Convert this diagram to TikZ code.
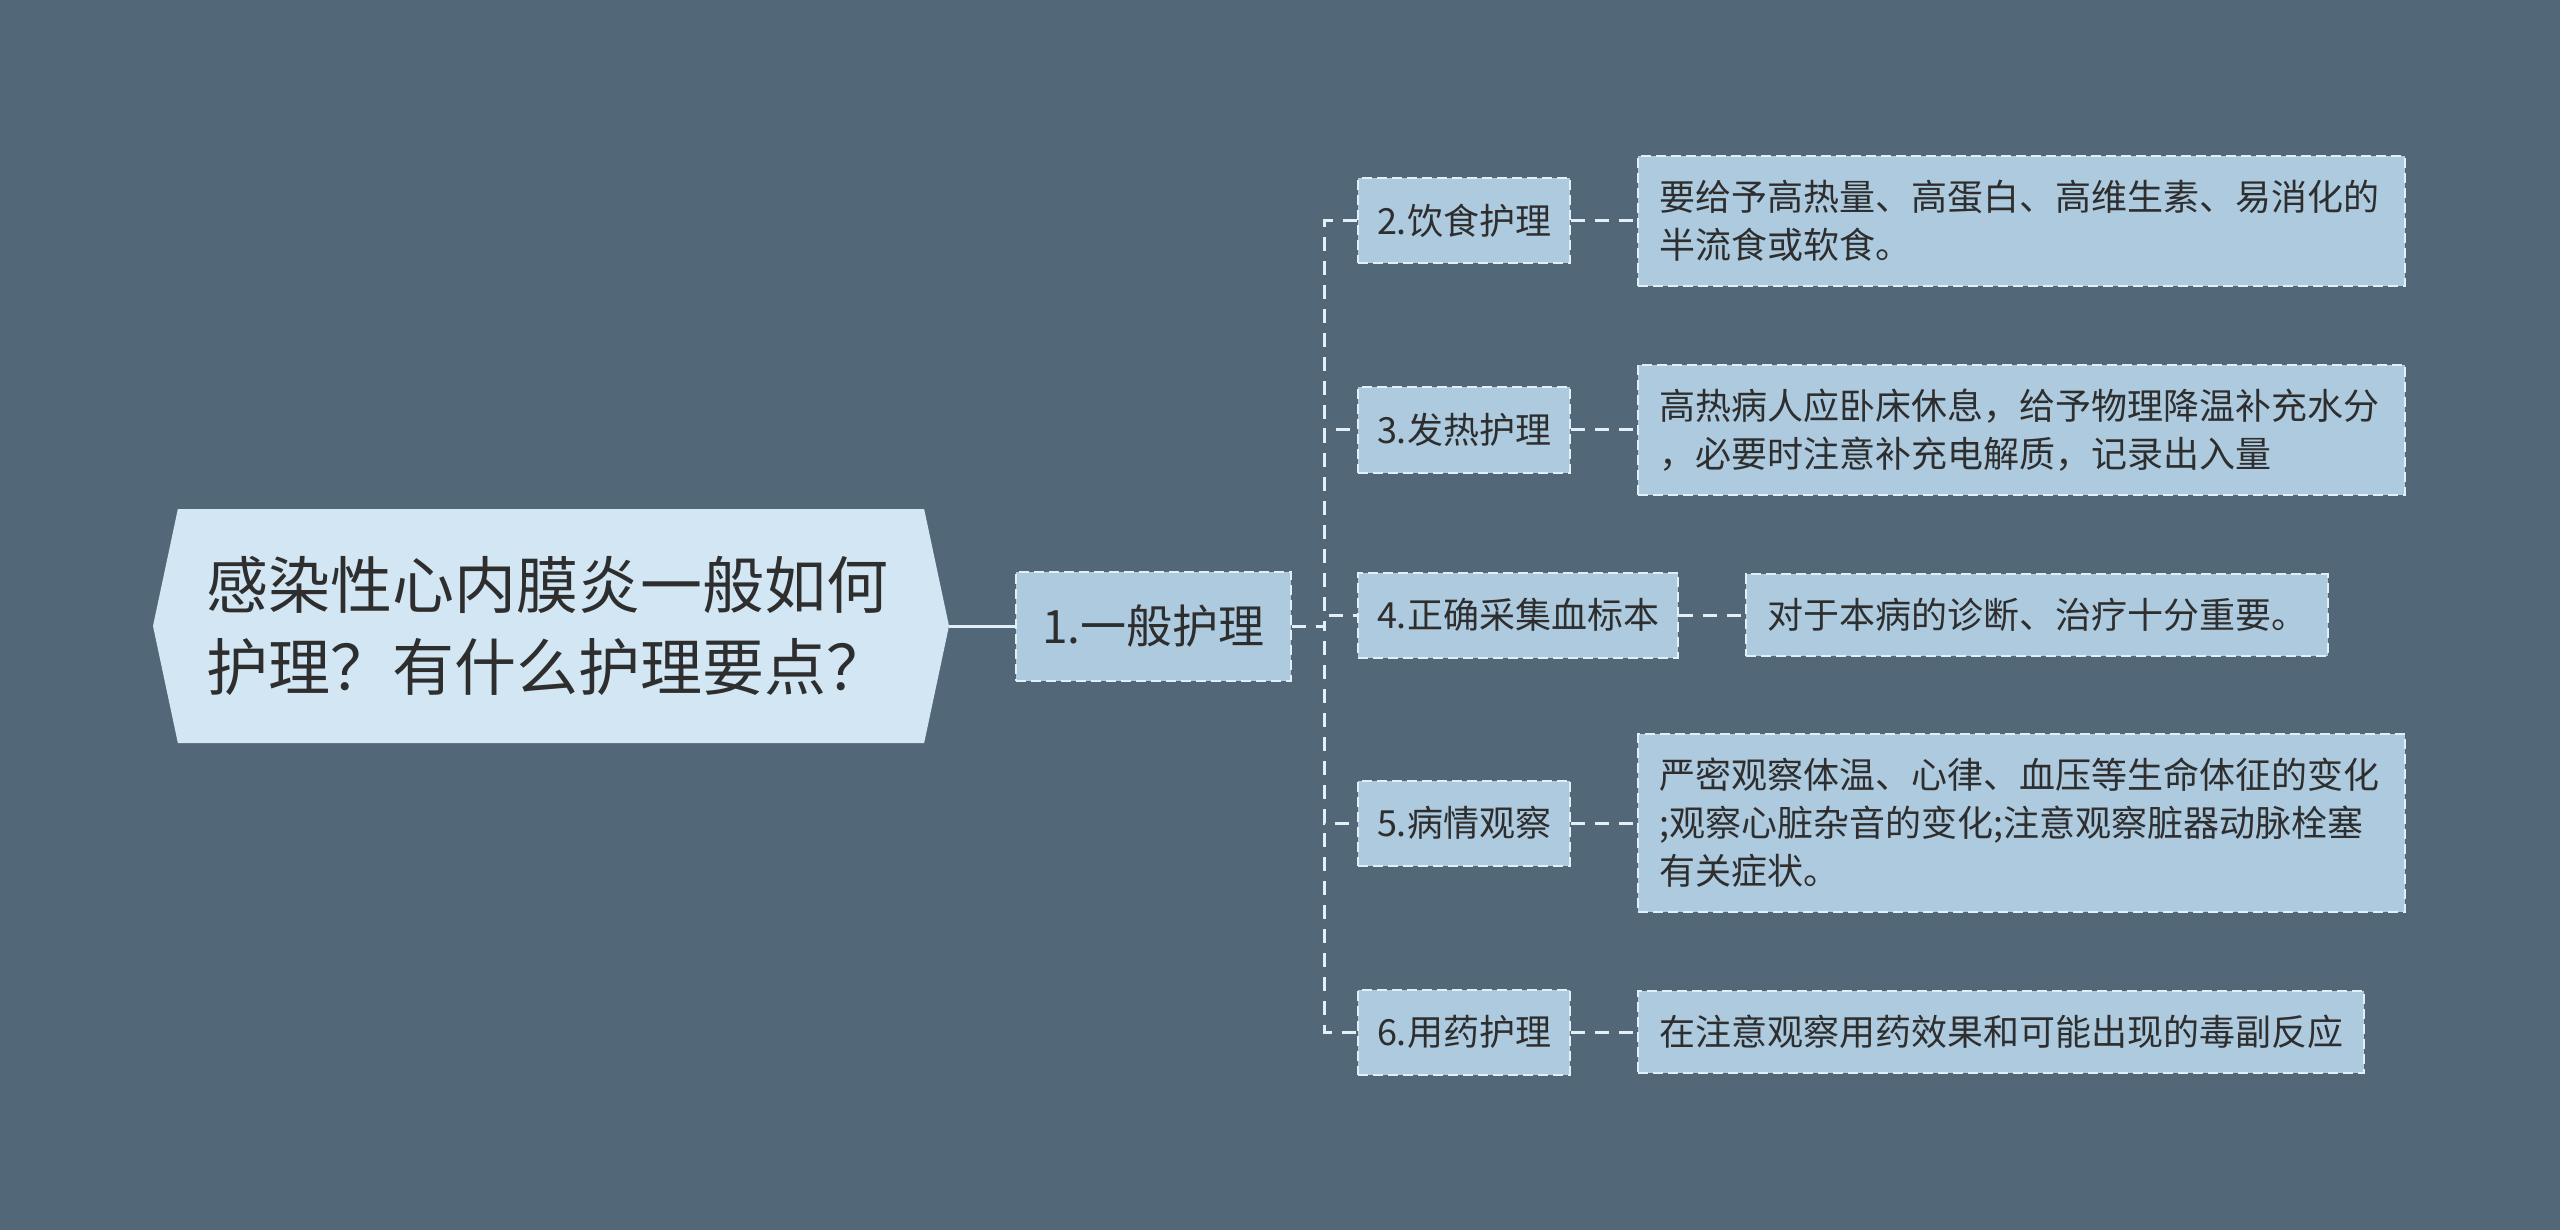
\documentclass[tikz,border=0pt]{standalone}
\usepackage{fontspec}
\setmainfont{Noto Sans CJK SC}
\usetikzlibrary{positioning,shapes.symbols}
\definecolor{bgcol}{HTML}{526878}
\definecolor{rootcol}{HTML}{D2E7F3}
\definecolor{nodecol}{HTML}{ADCADF}
\definecolor{linecol}{HTML}{E2EFF7}
\definecolor{txtcol}{HTML}{2E2E2E}
\tikzset{
  basic/.style   = {text=txtcol, font=\fontsize{36}{48}\selectfont},
  boxed/.style   = {basic, draw=linecol, line width=2pt, dash pattern=on 10pt off 5pt,
                   fill=nodecol},
  root/.style    = {basic, signal, signal to=west and east, signal pointer angle=156,
                   fill=rootcol, font=\fontsize{62}{82}\selectfont, align=left,
                   text width=690pt, minimum width=796pt, minimum height=234pt,
                   inner sep=0pt},
  level 2/.style = {boxed, font=\fontsize{46}{56}\selectfont, inner xsep=26pt,
                   minimum height=109pt},
  level 3/.style = {boxed, inner xsep=19pt, minimum height=85pt},
  level 4/.style = {boxed, align=left, inner xsep=21pt, inner ysep=24pt},
  link/.style    = {draw=linecol, line width=3pt, dash pattern=on 14pt off 10pt}
}
\begin{document}
\begin{tikzpicture}[x=1pt, y=1pt]
\fill[bgcol] (0,0) rectangle (2560,-1230);
\useasboundingbox (0,0) rectangle (2560,-1230);

% root and first level
\node[root] (root) at (551,-626) {感染性心内膜炎一般如何\\护理？有什么护理要点？};
\node[level 2, right=66pt of root] (n1) {1.一般护理};

% second level
\node[level 3, anchor=west] (n2) at (1357,-221)  {2.饮食护理};
\node[level 3, anchor=west] (n3) at (1357,-430)  {3.发热护理};
\node[level 3, anchor=west] (n4) at (1357,-615)  {4.正确采集血标本};
\node[level 3, anchor=west] (n5) at (1357,-823)  {5.病情观察};
\node[level 3, anchor=west] (n6) at (1357,-1032) {6.用药护理};

% leaves
\node[level 4, right=66pt of n2, text width=725pt] (l2) {要给予高热量、高蛋白、高维生素、易消化的\\半流食或软食。};
\node[level 4, right=66pt of n3, text width=725pt] (l3) {高热病人应卧床休息，给予物理降温补充水分\\，必要时注意补充电解质，记录出入量};
\node[level 4, right=66pt of n4] (l4) {对于本病的诊断、治疗十分重要。};
\node[level 4, right=66pt of n5, text width=725pt] (l5) {严密观察体温、心律、血压等生命体征的变化\\;观察心脏杂音的变化;注意观察脏器动脉栓塞\\有关症状。};
\node[level 4, right=66pt of n6] (l6) {在注意观察用药效果和可能出现的毒副反应};

\draw[link, solid] (root.east) -- (n1.west);
\foreach \value in {2,...,6}
  \draw[link] (n1.east) -- ++(33,0) |- (n\value.west);
\foreach \value in {2,...,6}
  \draw[link] (n\value.east) -- (l\value.west);
\end{tikzpicture}
\end{document}
